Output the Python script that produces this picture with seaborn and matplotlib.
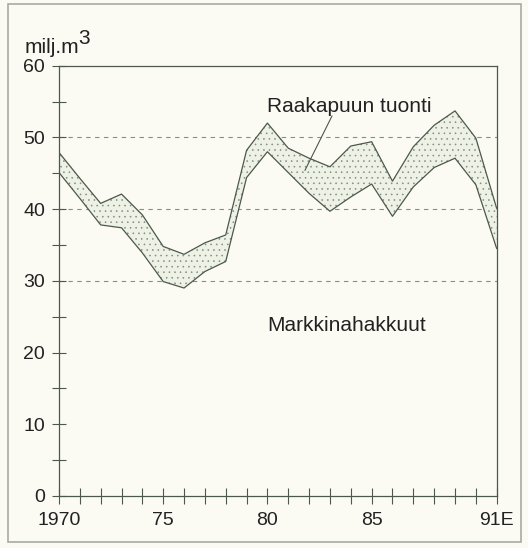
import numpy as np
import pandas as pd
import matplotlib
matplotlib.use('Agg')
import matplotlib.pyplot as plt
import seaborn as sns
from matplotlib.patches import Rectangle

# values (milj. m3)
years = list(range(1970, 1992))
markkinahakkuut = [45.1, 41.5, 37.8, 37.4, 33.9, 29.9, 29.0, 31.3, 32.7, 44.4, 48.0,
                   45.1, 42.2, 39.7, 41.7, 43.5, 39.0, 43.1, 45.8, 47.1, 43.4, 34.5]
yhteensa = [47.9, 44.3, 40.8, 42.1, 39.2, 34.8, 33.7, 35.3, 36.4, 48.2, 52.0,
            48.5, 47.1, 45.9, 48.8, 49.4, 43.9, 48.7, 51.7, 53.7, 49.9, 40.1]
xtick_labels = {1970: '1970', 1975: '75', 1980: '80', 1985: '85', 1991: '91E'}

df = pd.DataFrame({'vuosi': years, 'hakkuut': markkinahakkuut, 'yht': yhteensa})

sns.set_style('white')
plt.rcParams['font.family'] = ['Liberation Sans', 'DejaVu Sans']
plt.rcParams['hatch.linewidth'] = 0.4

bg = '#fbfbf3'
ink = '#4c584b'

fig = plt.figure(figsize=(5.28, 5.48), dpi=100, facecolor=bg)
ax = fig.add_axes([0.1117, 0.0949, 0.829, 0.7852])
ax.set_facecolor(bg)

# band between the two lines = raakapuun tuonti
ax.fill_between(df['vuosi'], df['hakkuut'], df['yht'], facecolor='#eef2e6',
                hatch='...', edgecolor='#7f8d7c', linewidth=0, zorder=1)
sns.lineplot(data=df, x='vuosi', y='hakkuut', color=ink, lw=0.9, ax=ax, zorder=3)
sns.lineplot(data=df, x='vuosi', y='yht', color=ink, lw=0.9, ax=ax, zorder=3)

for g in [30, 40, 50]:
    ax.axhline(g, color='#8c8c86', lw=0.8, dashes=(4, 4), zorder=0.5)

ax.set_xlim(1970, 1991)
ax.set_ylim(0, 60)
ax.set_xticks(years)
ax.set_xticklabels([xtick_labels.get(y, '') for y in years])
ax.set_yticks(range(0, 61, 10))
ax.set_yticks(range(5, 60, 10), minor=True)
ax.tick_params(axis='x', bottom=True, direction='inout', length=11, width=0.8,
               color=ink, pad=6, labelsize=14, labelcolor='#222222')
ax.tick_params(axis='y', which='both', left=True, direction='inout', length=10,
               width=0.8, color=ink, pad=5, labelsize=14, labelcolor='#222222')
ax.set_xlabel('')
ax.set_ylabel('')
for s in ax.spines.values():
    s.set_color(ink)
    s.set_linewidth(0.9)

# labels
ax.text(1980.0, 23.8, 'Markkinahakkuut', fontsize=15, color='#222222', va='center')
ax.text(1980.0, 54.3, 'Raakapuun tuonti', fontsize=15, color='#222222', va='center')
ax.plot([1983.1, 1981.8], [53.0, 45.4], color=ink, lw=0.8, zorder=4)

fig.text(25 / 528, 1 - 53 / 548, 'milj.m', fontsize=15, color='#222222', va='baseline')
fig.text(78 / 528, 1 - 44 / 548, '3', fontsize=15, color='#222222', va='baseline')

# frame around the whole picture
fig.patches.append(Rectangle((8 / 528, 1 - 542 / 548), 513 / 528, 538 / 548,
                             transform=fig.transFigure, fill=False,
                             edgecolor='#a8aaa4', lw=1.2))

fig.savefig('out.png', dpi=100, facecolor=bg)
